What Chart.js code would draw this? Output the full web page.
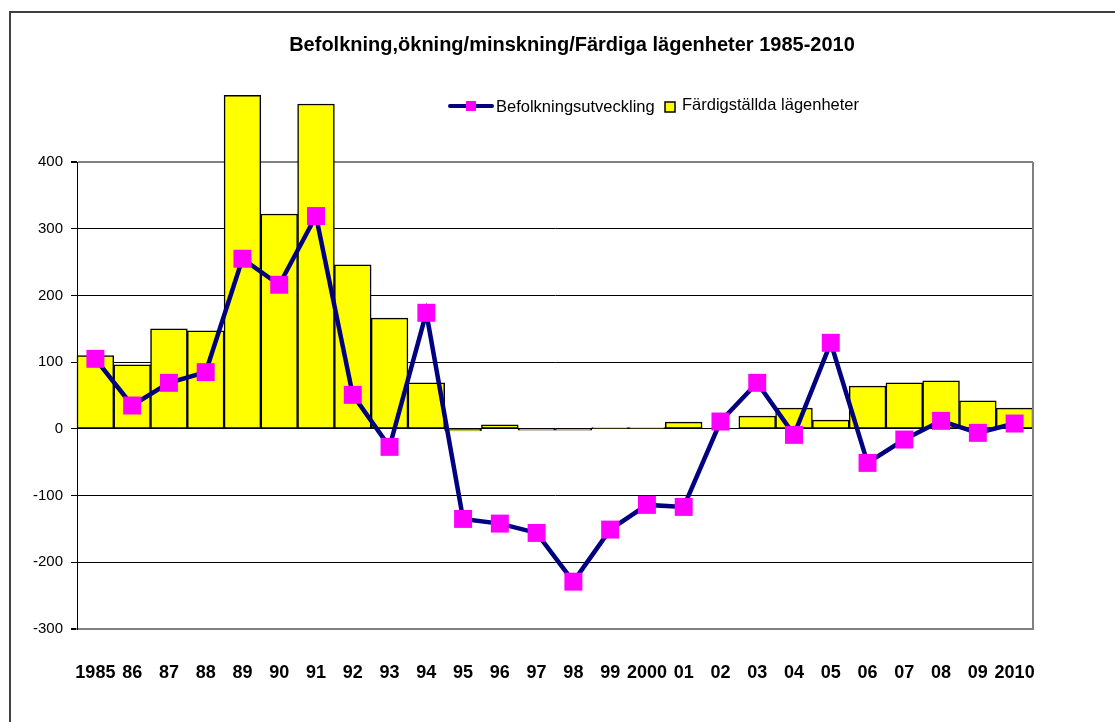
<!DOCTYPE html>
<html>
<head>
<meta charset="utf-8">
<script src="https://cdn.jsdelivr.net/npm/chart.js@4.4.0/dist/chart.umd.min.js"></script>
<style>
  body { margin: 0; background: #fff; }
  #wrap { width: 1115px; height: 722px; position: relative; }
</style>
</head>
<body>
<div id="wrap"><canvas id="befolkningChart" width="1115" height="722"></canvas></div>
<script>
// DATA
const years = ["1985", "86", "87", "88", "89", "90", "91", "92", "93", "94", "95", "96", "97",
  "98", "99", "2000", "01", "02", "03", "04", "05", "06", "07", "08", "09", "2010"];

const befolkning = [105, 35, 69, 85, 255, 216, 319, 51, -27, 174, -135, -142, -156,
  -229, -151, -114, -117, 11, 69, -9, 129, -51, -16, 12, -6, 8];

const lagenheter = [110, 96, 150, 147, 500, 322, 487, 246, 166, 69, -3, 6, -2,
  -2, 2, 2, 10, 0, 19, 31, 13, 64, 69, 72, 42, 31];

const yTicks = [400, 300, 200, 100, 0, -100, -200, -300];

const titleText = "Befolkning,ökning/minskning/Färdiga lägenheter 1985-2010";

const FONT = "'Liberation Sans', Arial, sans-serif";

const canvas = document.getElementById("befolkningChart");
const ctx = canvas.getContext("2d");

// TITLE, LEGEND, FRAME
const decorPlugin = {
  id: "decor",
  afterDraw(chart) {
    const c = chart.ctx;
    const area = chart.chartArea;
    c.save();

    // outer frame (only top/left visible)
    c.fillStyle = "#404040";
    c.fillRect(9, 11, 1115 - 9, 2);
    c.fillRect(9, 11, 2, 722 - 11);

    // right border of plot area
    c.strokeStyle = "#808080";
    c.lineWidth = 2;
    c.beginPath();
    c.moveTo(area.right, area.top);
    c.lineTo(area.right, area.bottom);
    c.stroke();

    // title
    c.fillStyle = "#000";
    c.font = "bold 20px " + FONT;
    c.textAlign = "center";
    c.textBaseline = "middle";
    c.fillText(titleText, 572, 45);

    // legend
    const lineDs = chart.data.datasets[0];
    const barDs = chart.data.datasets[1];
    const ly = 106;
    c.strokeStyle = lineDs.borderColor;
    c.lineWidth = 4;
    c.lineCap = "round";
    c.beginPath();
    c.moveTo(450, ly);
    c.lineTo(492, ly);
    c.stroke();
    c.fillStyle = lineDs.pointBackgroundColor;
    c.fillRect(466, ly - 5, 10, 10);

    c.fillStyle = "#000";
    c.font = "16.5px " + FONT;
    c.textAlign = "left";
    c.fillText(lineDs.label, 496, ly + 1);

    c.fillStyle = barDs.backgroundColor;
    c.fillRect(665, 102, 10, 10);
    c.strokeStyle = "#000";
    c.lineWidth = 1.5;
    c.strokeRect(665, 102, 10, 10);

    c.fillStyle = "#000";
    c.fillText(barDs.label, 682, ly - 1);

    c.restore();
  },
};

let myChart = new Chart(ctx, {
  type: "bar",
  data: {
    labels: years,
    datasets: [
      {
        type: "line",
        label: "Befolkningsutveckling",
        data: befolkning,
        borderColor: "#000080",
        borderWidth: 4.5,
        tension: 0,
        pointStyle: "rect",
        pointRadius: 12.7,
        pointHoverRadius: 12.7,
        pointBorderWidth: 0,
        pointBackgroundColor: "#FF00FF",
        pointBorderColor: "#FF00FF",
        clip: false,
        order: 0,
      },
      {
        type: "bar",
        label: "Färdigställda lägenheter",
        data: lagenheter,
        backgroundColor: "#FFFF00",
        borderColor: "#000",
        borderWidth: 1.5,
        barPercentage: 1,
        categoryPercentage: 1,
        borderSkipped: false,
        clip: false,
        order: 1,
      },
    ],
  },
  options: {
    responsive: false,
    animation: false,
    events: [],
    layout: {
      padding: { left: 0, right: 82, top: 162, bottom: 0 },
    },
    plugins: {
      legend: { display: false },
      title: { display: false },
      tooltip: { enabled: false },
    },
    scales: {
      x: {
        offset: true,
        grid: { display: false },
        border: { display: true, color: "#808080", width: 2 },
        ticks: {
          color: "#000",
          font: { family: FONT, size: 18, weight: "bold" },
          padding: 25,
          maxRotation: 0,
          autoSkip: false,
        },
        afterFit(scale) {
          scale.height = 722 - 629;
        },
      },
      y: {
        min: -300,
        max: 400,
        afterBuildTicks(scale) {
          scale.ticks = yTicks.map((v) => ({ value: v }));
        },
        grid: {
          color: (c) => (c.tick && (c.tick.value === 400 || c.tick.value === -300) ? "#808080" : "#000"),
          lineWidth: (c) => (c.tick && (c.tick.value === 400 || c.tick.value === -300) ? 2 : 1),
          tickLength: 6,
          tickColor: "#000",
        },
        border: { display: true, color: "#000", width: 1 },
        ticks: {
          color: "#000",
          font: { family: FONT, size: 15 },
          padding: 8,
        },
        afterFit(scale) {
          scale.width = 77;
        },
      },
    },
  },
  plugins: [decorPlugin],
});
</script>
</body>
</html>
